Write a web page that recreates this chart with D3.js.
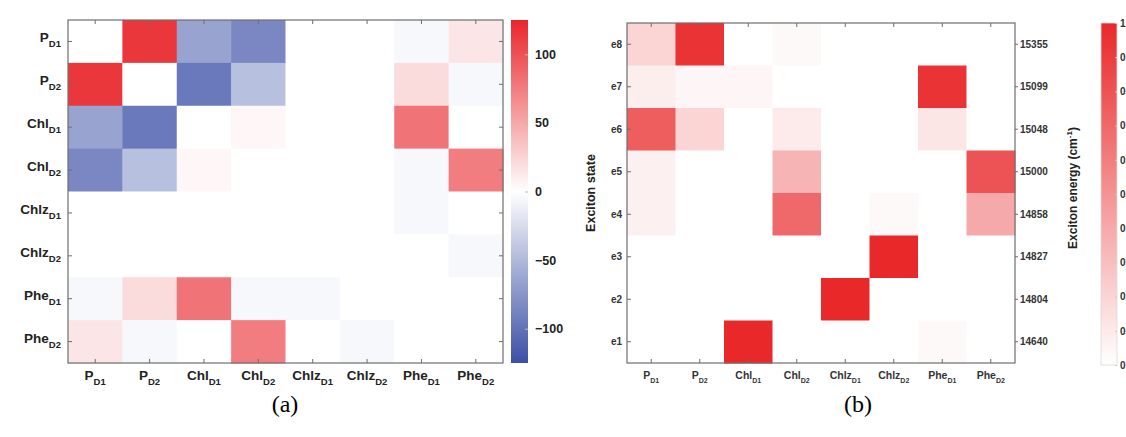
<!DOCTYPE html>
<html>
<head>
<meta charset="utf-8">
<script src="https://cdn.jsdelivr.net/npm/d3@7"></script>
<style>
  body { margin: 0; background: #fff; }
  svg { display: block; }
  .lab { font-family: 'Liberation Sans', Arial, sans-serif; font-weight: bold; }
</style>
</head>
<body>
<div id="chart"></div>
<script>
// pigment names (main text + subscript)
var pigments = [
  ['P', 'D1'], ['P', 'D2'], ['Chl', 'D1'], ['Chl', 'D2'],
  ['Chlz', 'D1'], ['Chlz', 'D2'], ['Phe', 'D1'], ['Phe', 'D2']
];

// panel (a): coupling matrix, rows top -> bottom, same order as pigments
var couplings = [
  [0, 115, -65, -85, 0, 0, -5, 15],
  [115, 0, -95, -45, 0, 0, 20, -5],
  [-65, -95, 0, 5, 0, 0, 80, 0],
  [-85, -45, 5, 0, 0, 0, -5, 75],
  [0, 0, 0, 0, 0, 0, -5, 0],
  [0, 0, 0, 0, 0, 0, 0, -5],
  [-5, 20, 80, -5, -5, 0, 0, 0],
  [15, -5, 0, 75, 0, -5, 0, 0]
];
var couplingTicks = [-100, -50, 0, 50, 100];

// panel (b): exciton composition, rows e8 (top) -> e1 (bottom)
var excitons = ['e8', 'e7', 'e6', 'e5', 'e4', 'e3', 'e2', 'e1'];
var energies = ['15355', '15099', '15048', '15000', '14858', '14827', '14804', '14640'];
var weights = [
  [0.2, 0.95, 0, 0.03, 0, 0, 0, 0],
  [0.08, 0.04, 0.04, 0, 0, 0, 0.95, 0],
  [0.75, 0.2, 0, 0.1, 0, 0, 0.12, 0],
  [0.07, 0, 0, 0.35, 0, 0, 0, 0.8],
  [0.07, 0, 0, 0.7, 0, 0.03, 0, 0.4],
  [0, 0, 0, 0, 0, 1, 0, 0],
  [0, 0, 0, 0, 1, 0, 0, 0],
  [0, 0, 1, 0, 0, 0, 0.03, 0]
];
var weightTicks = ['1', '0.9', '0.8', '0.7', '0.6', '0.5', '0.4', '0.3', '0.2', '0.1', '0'];

var W = 1126, H = 437;
var axisColor = '#6e6e6e';

var svg = d3.select('#chart').append('svg')
  .attr('width', W)
  .attr('height', H);

var defs = svg.append('defs');

var idx = d3.range(pigments.length);

// text with a subscript
var subLabel = function(sel, p, size, subSize, drop) {
  sel.append('tspan').text(p[0]).attr('font-size', size);
  sel.append('tspan').text(p[1]).attr('font-size', subSize).attr('dy', drop);
};

var box = function(g, w, h) {
  g.append('rect')
    .attr('width', w).attr('height', h)
    .attr('fill', 'none')
    .attr('stroke', axisColor)
    .attr('stroke-width', 1.2);
};

// ---------- panel (a) ----------
var a = {left: 68, top: 20, w: 435, h: 343};
var ga = svg.append('g').attr('transform', 'translate(' + a.left + ',' + a.top + ')');

var xa = d3.scaleBand().domain(idx).range([0, a.w]);
var ya = d3.scaleBand().domain(idx).range([0, a.h]);
var colA = d3.scaleLinear().domain([-125, 0, 125])
  .range(['#3b4fa5', '#ffffff', '#e8262b']);

couplings.forEach(function(row, i) {
  ga.selectAll(null).data(row).enter()
    .append('rect')
    .attr('x', function(d, j) { return xa(j); })
    .attr('y', ya(i))
    .attr('width', xa.bandwidth() + 0.5)
    .attr('height', ya.bandwidth() + 0.5)
    .attr('fill', function(d) { return colA(d); });
});

box(ga, a.w, a.h);

// inward ticks
idx.forEach(function(i) {
  var cx = xa(i) + xa.bandwidth() / 2;
  var cy = ya(i) + ya.bandwidth() / 2;
  [[cx, 0, cx, 4], [cx, a.h, cx, a.h - 4], [0, cy, 4, cy], [a.w, cy, a.w - 4, cy]]
    .forEach(function(t) {
      ga.append('line').attr('x1', t[0]).attr('y1', t[1]).attr('x2', t[2]).attr('y2', t[3])
        .attr('stroke', axisColor);
    });
});

// y labels
ga.selectAll(null).data(pigments).enter()
  .append('text')
  .attr('class', 'lab')
  .attr('x', -7)
  .attr('y', function(d, i) { return ya(i) + ya.bandwidth() / 2 + 1; })
  .attr('text-anchor', 'end')
  .attr('fill', '#222')
  .each(function(d) { subLabel(d3.select(this), d, 13.5, 9.5, 5); });

// x labels
ga.selectAll(null).data(pigments).enter()
  .append('text')
  .attr('class', 'lab')
  .attr('x', function(d, i) { return xa(i) + xa.bandwidth() / 2; })
  .attr('y', a.h + 17)
  .attr('text-anchor', 'middle')
  .attr('fill', '#222')
  .each(function(d) { subLabel(d3.select(this), d, 13.5, 9.5, 5); });

// colorbar (a)
var gradA = defs.append('linearGradient').attr('id', 'gradA')
  .attr('x1', 0).attr('y1', 1).attr('x2', 0).attr('y2', 0);
d3.range(0, 1.0001, 0.1).forEach(function(t) {
  gradA.append('stop').attr('offset', t).attr('stop-color', colA(-125 + 250 * t));
});

var cbA = {left: 511, w: 17};
var yCbA = d3.scaleLinear().domain([-125, 125]).range([a.top + a.h, a.top]);
svg.append('rect')
  .attr('x', cbA.left).attr('y', a.top)
  .attr('width', cbA.w).attr('height', a.h)
  .attr('fill', 'url(#gradA)');

var cbAxisA = svg.append('g')
  .attr('transform', 'translate(' + (cbA.left + cbA.w) + ',0)')
  .call(d3.axisRight(yCbA).tickValues(couplingTicks).tickSize(-3).tickPadding(7));
cbAxisA.select('.domain').remove();
cbAxisA.selectAll('line').attr('stroke', '#bbb');
cbAxisA.selectAll('text')
  .attr('class', 'lab')
  .attr('font-size', 12.5)
  .attr('fill', '#222');

svg.append('text')
  .attr('x', 285).attr('y', 412)
  .attr('text-anchor', 'middle')
  .attr('font-family', "'Liberation Serif', 'Times New Roman', serif")
  .attr('font-size', 24)
  .text('(a)');

// ---------- panel (b) ----------
var b = {left: 627, top: 23, w: 388, h: 340};
var gb = svg.append('g').attr('transform', 'translate(' + b.left + ',' + b.top + ')');

var xb = d3.scaleBand().domain(idx).range([0, b.w]);
var yb = d3.scaleBand().domain(excitons).range([0, b.h]);
var colB = d3.scaleLinear().domain([0, 1]).range(['#ffffff', '#e9282a']);

weights.forEach(function(row, i) {
  gb.selectAll(null).data(row).enter()
    .append('rect')
    .attr('x', function(d, j) { return xb(j); })
    .attr('y', yb(excitons[i]))
    .attr('width', xb.bandwidth() + 0.5)
    .attr('height', yb.bandwidth() + 0.5)
    .attr('fill', function(d) { return colB(d); });
});

box(gb, b.w, b.h);

idx.forEach(function(i) {
  var cx = xb(i) + xb.bandwidth() / 2;
  var cy = yb(excitons[i]) + yb.bandwidth() / 2;
  [[cx, 0, cx, 4], [cx, b.h, cx, b.h - 4], [0, cy, 4, cy], [b.w, cy, b.w + 3, cy]]
    .forEach(function(t) {
      gb.append('line').attr('x1', t[0]).attr('y1', t[1]).attr('x2', t[2]).attr('y2', t[3])
        .attr('stroke', axisColor);
    });
});

// left labels
gb.selectAll(null).data(excitons).enter()
  .append('text')
  .attr('class', 'lab')
  .attr('x', -5)
  .attr('y', function(d) { return yb(d) + yb.bandwidth() / 2 + 3.5; })
  .attr('text-anchor', 'end')
  .attr('font-size', 10)
  .attr('fill', '#333')
  .text(function(d) { return d; });

// right labels
gb.selectAll(null).data(energies).enter()
  .append('text')
  .attr('class', 'lab')
  .attr('x', b.w + 5)
  .attr('y', function(d, i) { return yb(excitons[i]) + yb.bandwidth() / 2 + 3.5; })
  .attr('font-size', 10)
  .attr('fill', '#333')
  .text(function(d) { return d; });

// x labels
gb.selectAll(null).data(pigments).enter()
  .append('text')
  .attr('class', 'lab')
  .attr('x', function(d, i) { return xb(i) + xb.bandwidth() / 2; })
  .attr('y', b.h + 16)
  .attr('text-anchor', 'middle')
  .attr('fill', '#333')
  .each(function(d) { subLabel(d3.select(this), d, 10.5, 7, 4); });

// axis titles
gb.append('text')
  .attr('class', 'lab')
  .attr('transform', 'translate(-32,' + (b.h / 2) + ') rotate(-90)')
  .attr('text-anchor', 'middle')
  .attr('font-size', 12.5)
  .attr('fill', '#222')
  .text('Exciton state');

var rt = gb.append('text')
  .attr('class', 'lab')
  .attr('transform', 'translate(' + (b.w + 62) + ',' + (b.h / 2 - 5) + ') rotate(-90)')
  .attr('text-anchor', 'middle')
  .attr('font-size', 12)
  .attr('fill', '#222');
rt.append('tspan').text('Exciton energy (cm');
rt.append('tspan').text('-1').attr('font-size', 8).attr('dy', -5);
rt.append('tspan').text(')').attr('dy', 5);

// colorbar (b)
var gradB = defs.append('linearGradient').attr('id', 'gradB')
  .attr('x1', 0).attr('y1', 1).attr('x2', 0).attr('y2', 0);
gradB.append('stop').attr('offset', 0).attr('stop-color', colB(0));
gradB.append('stop').attr('offset', 1).attr('stop-color', colB(1));

var cbB = {left: 1101, top: 23, w: 16, h: 342};
var yCbB = d3.scaleLinear().domain([0, 1]).range([cbB.top + cbB.h, cbB.top]);
svg.append('rect')
  .attr('x', cbB.left).attr('y', cbB.top)
  .attr('width', cbB.w).attr('height', cbB.h)
  .attr('fill', 'url(#gradB)')
  .attr('stroke', '#ddd')
  .attr('stroke-width', 0.8);

var cbAxisB = svg.append('g')
  .attr('transform', 'translate(' + (cbB.left + cbB.w) + ',0)')
  .call(d3.axisRight(yCbB)
    .tickValues(weightTicks.map(Number))
    .tickFormat(function(d, i) { return weightTicks[i]; })
    .tickSize(-2).tickPadding(3));
cbAxisB.select('.domain').remove();
cbAxisB.selectAll('line').attr('stroke', '#ccc');
cbAxisB.selectAll('text')
  .attr('class', 'lab')
  .attr('font-size', 10)
  .attr('fill', '#333');

svg.append('text')
  .attr('x', 858).attr('y', 412)
  .attr('text-anchor', 'middle')
  .attr('font-family', "'Liberation Serif', 'Times New Roman', serif")
  .attr('font-size', 24)
  .text('(b)');
</script>
</body>
</html>
